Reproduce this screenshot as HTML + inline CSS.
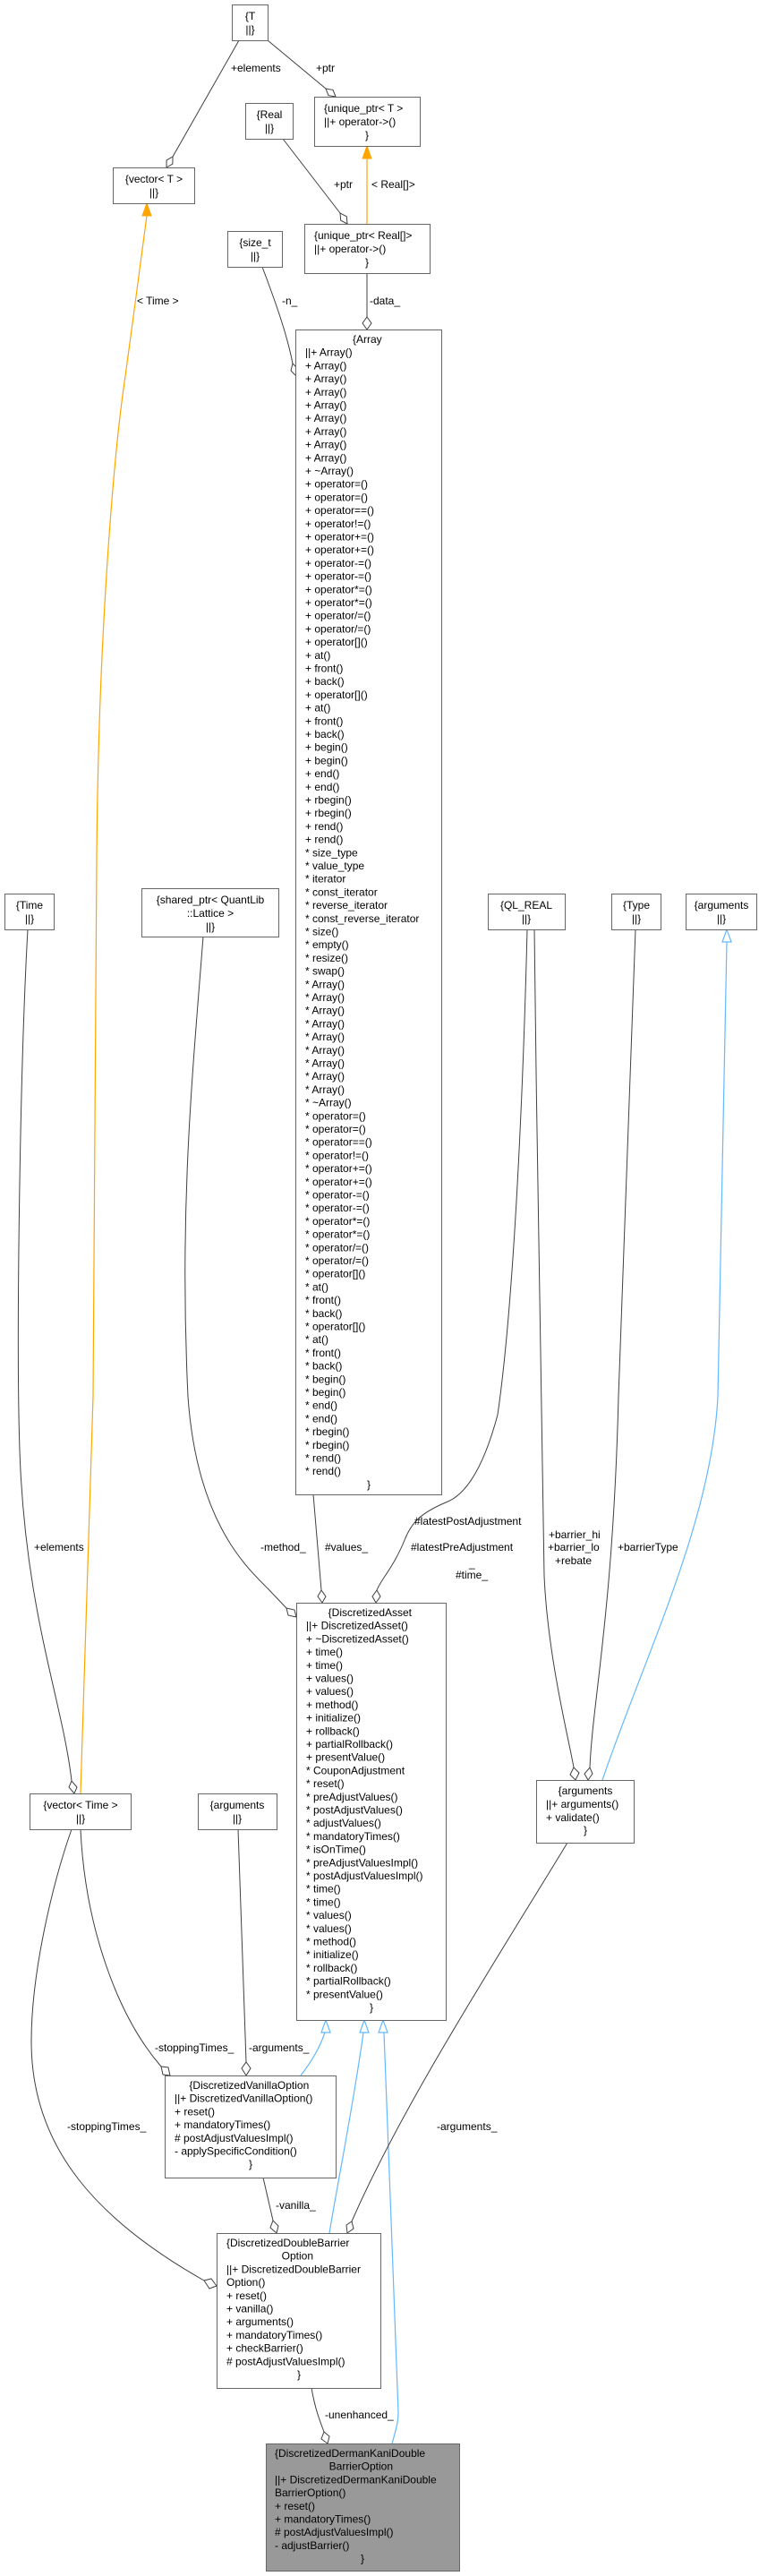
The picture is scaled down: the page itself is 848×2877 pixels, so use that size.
<!DOCTYPE html>
<html><head><meta charset="utf-8"><style>
html,body{margin:0;padding:0;background:#fff;}
svg{display:block;}
text{font-family:"Liberation Sans",Arial,sans-serif;font-size:12px;fill:#000;}
.b{fill:#fff;stroke:#666;stroke-width:1;}
.e{fill:none;stroke:#404040;stroke-width:1;}
.d{fill:#fff;stroke:#404040;stroke-width:1;}
.o{fill:none;stroke:#ffa500;stroke-width:1.2;}
.u{fill:none;stroke:#63b8ff;stroke-width:1.2;}
.c{text-anchor:middle;}
</style></head><body>
<svg width="848" height="2877" viewBox="0 0 848 2877" xmlns="http://www.w3.org/2000/svg">

<!-- ===== edges ===== -->
<!-- T -> vector<T> +elements -->
<path class="e" d="M267,45 L193,175"/>
<polygon class="d" points="186,187 192.9,183.1 193,175 186.1,178.9"/>
<text x="258" y="80">+elements</text>
<!-- T -> unique_ptr<T> +ptr -->
<path class="e" d="M299,45 L364,99"/>
<polygon class="d" points="375,108 367,106.6 364,99 372,100.4"/>
<text x="353" y="80">+ptr</text>
<!-- Real -> unique_ptr<Real[]> -->
<path class="e" d="M316,155 L380,238"/>
<polygon class="d" points="388,250 380.7,246.2 380,238 387.3,241.8"/>
<text x="373" y="210">+ptr</text>
<!-- orange template -->
<path class="o" d="M410,250 L410,177"/>
<polygon points="410,163 405,177 415,177" fill="#ffa500" stroke="#ffa500"/>
<text x="415" y="210">&lt; Real[]&gt;</text>
<!-- -data_ -->
<path class="e" d="M410,305 L410,354"/>
<polygon class="d" points="410,368 405,361 410,354 415,361"/>
<text x="413" y="340">-data_</text>
<!-- -n_ -->
<path class="e" d="M293,298 C305,330 320,370 327,406"/>
<polygon class="d" points="331,420 325,414 327,406 333,412"/>
<text x="315" y="340">-n_</text>
<!-- orange vector<Time> -> vector<T> -->
<path class="o" d="M90,2003 L104,1560 L108,960 C110,700 128,500 140,420 C148,360 158,290 164,241"/>
<polygon points="164,227 159,241 169,241" fill="#ffa500" stroke="#ffa500"/>
<text x="153" y="340">&lt; Time &gt;</text>
<!-- Time -> vector<Time> +elements -->
<path class="e" d="M31,1038 C22,1200 18,1500 22,1620 C28,1800 70,1900 80,1989"/>
<polygon class="d" points="83,2003 77,1996 80,1989 86,1996"/>
<text x="38" y="1732">+elements</text>
<!-- shared_ptr -> DA -method_ -->
<path class="e" d="M227,1046 C215,1200 200,1350 210,1560 C220,1700 275,1750 300,1775 L320,1796"/>
<polygon class="d" points="331,1806 322,1804 320,1796 329,1798"/>
<text x="291" y="1732">-method_</text>
<!-- #values_ -->
<path class="e" d="M350,1669 L359,1776"/>
<polygon class="d" points="360,1790 355,1783 359,1776 364,1783"/>
<text x="363" y="1732">#values_</text>
<!-- QL_REAL -> DA -->
<path class="e" d="M589,1038 C585,1200 575,1450 556,1580 C540,1640 520,1670 498,1678 C470,1690 460,1700 452,1720 C440,1750 425,1765 421,1776"/>
<polygon class="d" points="420,1790 416,1783 421,1776 425,1783"/>
<text x="463" y="1703">#latestPostAdjustment</text>
<text x="459" y="1732">#latestPreAdjustment</text>
<text x="524" y="1750">_</text>
<text x="509" y="1763">#time_</text>
<!-- QL_REAL -> arguments right -->
<path class="e" d="M597,1038 C600,1300 605,1600 608,1760 C612,1850 635,1940 641,1974"/>
<polygon class="d" points="643,1988 637,1982 641,1974 647,1980"/>
<text x="613" y="1718">+barrier_hi</text>
<text x="612" y="1732">+barrier_lo</text>
<text x="620" y="1747">+rebate</text>
<!-- Type -> arguments right -->
<path class="e" d="M710,1038 L691,1560 C685,1800 662,1900 659,1974"/>
<polygon class="d" points="657,1988 653,1981 659,1974 662,1981"/>
<text x="690" y="1732">+barrierType</text>
<!-- blue arguments right -> arguments top -->
<path class="u" d="M673,1988 C720,1850 795,1700 802,1560 L812,1052"/>
<polygon points="812,1038 807,1052 817,1052" fill="#fff" stroke="#63b8ff" stroke-width="1.2"/>
<!-- vector<Time> -> Vanilla -stoppingTimes_ -->
<path class="e" d="M90,2043 C95,2150 130,2250 180,2308"/>
<polygon class="d" points="190,2318 182,2317 180,2308 188,2309"/>
<text x="173" y="2291">-stoppingTimes_</text>
<!-- vector<Time> -> DB left -->
<path class="e" d="M80,2043 C60,2100 35,2200 35,2280 C35,2400 110,2480 228,2547"/>
<polygon class="d" points="242,2553 234,2556 228,2547 236,2545"/>
<text x="75" y="2379">-stoppingTimes_</text>
<!-- arguments mid -> Vanilla -->
<path class="e" d="M266,2043 L275,2303"/>
<polygon class="d" points="275,2318 270,2310 275,2303 280,2310"/>
<text x="278" y="2291">-arguments_</text>
<!-- blue inheritance into DA -->
<path class="u" d="M336,2318 C350,2300 358,2285 363,2270"/>
<polygon points="364,2256 359,2270 369,2270" fill="#fff" stroke="#63b8ff" stroke-width="1.2"/>
<path class="u" d="M368,2494 C375,2450 395,2350 406,2270"/>
<polygon points="407,2256 402,2270 412,2270" fill="#fff" stroke="#63b8ff" stroke-width="1.2"/>
<path class="u" d="M438,2729 C442,2715 445,2705 445,2695 L437,2480 L429,2270"/>
<polygon points="428,2256 423,2270 433,2270" fill="#fff" stroke="#63b8ff" stroke-width="1.2"/>
<!-- -vanilla_ -->
<path class="e" d="M294,2432 L305,2480"/>
<polygon class="d" points="309,2494 302,2488 305,2480 311,2486"/>
<text x="308" y="2467">-vanilla_</text>
<!-- args right -> DB -arguments_ -->
<path class="e" d="M634,2058 C560,2180 450,2350 393,2481"/>
<polygon class="d" points="388,2494 387,2485 393,2481 395,2489"/>
<text x="488" y="2379">-arguments_</text>
<!-- -unenhanced_ -->
<path class="e" d="M348,2667 C352,2690 357,2703 362,2716"/>
<polygon class="d" points="366,2729 359,2724 362,2716 368,2721"/>
<text x="363" y="2701">-unenhanced_</text>

<!-- ===== boxes ===== -->
<rect class="b" x="259.5" y="5.5" width="40" height="40"/>
<text class="c" x="279.5" y="22">{T</text><text class="c" x="279.5" y="37">||}</text>

<rect class="b" x="126.5" y="187.5" width="91" height="40"/>
<text class="c" x="172" y="204">{vector&lt; T &gt;</text><text class="c" x="172" y="219">||}</text>

<rect class="b" x="274.5" y="115.5" width="53" height="40"/>
<text class="c" x="301" y="132">{Real</text><text class="c" x="301" y="147">||}</text>

<rect class="b" x="351.5" y="108.5" width="118" height="55"/>
<text x="362" y="125">{unique_ptr&lt; T &gt;</text><text x="362" y="140">||+ operator-&gt;()</text><text class="c" x="410" y="155">}</text>

<rect class="b" x="340.5" y="250.5" width="140" height="55"/>
<text x="351" y="267">{unique_ptr&lt; Real[]&gt;</text><text x="351" y="282">||+ operator-&gt;()</text><text class="c" x="410" y="297">}</text>

<rect class="b" x="254.5" y="258.5" width="61" height="40"/>
<text class="c" x="285" y="275">{size_t</text><text class="c" x="285" y="290">||}</text>

<rect class="b" x="330.5" y="368.5" width="163" height="1301"/>
<text x="341" y="383">
<tspan class="c" x="412" dy="0">{Array</tspan>
<tspan x="341" dy="14.7">||+ Array()</tspan>
<tspan x="341" dy="14.7">+ Array()</tspan>
<tspan x="341" dy="14.7">+ Array()</tspan>
<tspan x="341" dy="14.7">+ Array()</tspan>
<tspan x="341" dy="14.7">+ Array()</tspan>
<tspan x="341" dy="14.7">+ Array()</tspan>
<tspan x="341" dy="14.7">+ Array()</tspan>
<tspan x="341" dy="14.7">+ Array()</tspan>
<tspan x="341" dy="14.7">+ Array()</tspan>
<tspan x="341" dy="14.7">+ ~Array()</tspan>
<tspan x="341" dy="14.7">+ operator=()</tspan>
<tspan x="341" dy="14.7">+ operator=()</tspan>
<tspan x="341" dy="14.7">+ operator==()</tspan>
<tspan x="341" dy="14.7">+ operator!=()</tspan>
<tspan x="341" dy="14.7">+ operator+=()</tspan>
<tspan x="341" dy="14.7">+ operator+=()</tspan>
<tspan x="341" dy="14.7">+ operator-=()</tspan>
<tspan x="341" dy="14.7">+ operator-=()</tspan>
<tspan x="341" dy="14.7">+ operator*=()</tspan>
<tspan x="341" dy="14.7">+ operator*=()</tspan>
<tspan x="341" dy="14.7">+ operator/=()</tspan>
<tspan x="341" dy="14.7">+ operator/=()</tspan>
<tspan x="341" dy="14.7">+ operator[]()</tspan>
<tspan x="341" dy="14.7">+ at()</tspan>
<tspan x="341" dy="14.7">+ front()</tspan>
<tspan x="341" dy="14.7">+ back()</tspan>
<tspan x="341" dy="14.7">+ operator[]()</tspan>
<tspan x="341" dy="14.7">+ at()</tspan>
<tspan x="341" dy="14.7">+ front()</tspan>
<tspan x="341" dy="14.7">+ back()</tspan>
<tspan x="341" dy="14.7">+ begin()</tspan>
<tspan x="341" dy="14.7">+ begin()</tspan>
<tspan x="341" dy="14.7">+ end()</tspan>
<tspan x="341" dy="14.7">+ end()</tspan>
<tspan x="341" dy="14.7">+ rbegin()</tspan>
<tspan x="341" dy="14.7">+ rbegin()</tspan>
<tspan x="341" dy="14.7">+ rend()</tspan>
<tspan x="341" dy="14.7">+ rend()</tspan>
<tspan x="341" dy="14.7">* size_type</tspan>
<tspan x="341" dy="14.7">* value_type</tspan>
<tspan x="341" dy="14.7">* iterator</tspan>
<tspan x="341" dy="14.7">* const_iterator</tspan>
<tspan x="341" dy="14.7">* reverse_iterator</tspan>
<tspan x="341" dy="14.7">* const_reverse_iterator</tspan>
<tspan x="341" dy="14.7">* size()</tspan>
<tspan x="341" dy="14.7">* empty()</tspan>
<tspan x="341" dy="14.7">* resize()</tspan>
<tspan x="341" dy="14.7">* swap()</tspan>
<tspan x="341" dy="14.7">* Array()</tspan>
<tspan x="341" dy="14.7">* Array()</tspan>
<tspan x="341" dy="14.7">* Array()</tspan>
<tspan x="341" dy="14.7">* Array()</tspan>
<tspan x="341" dy="14.7">* Array()</tspan>
<tspan x="341" dy="14.7">* Array()</tspan>
<tspan x="341" dy="14.7">* Array()</tspan>
<tspan x="341" dy="14.7">* Array()</tspan>
<tspan x="341" dy="14.7">* Array()</tspan>
<tspan x="341" dy="14.7">* ~Array()</tspan>
<tspan x="341" dy="14.7">* operator=()</tspan>
<tspan x="341" dy="14.7">* operator=()</tspan>
<tspan x="341" dy="14.7">* operator==()</tspan>
<tspan x="341" dy="14.7">* operator!=()</tspan>
<tspan x="341" dy="14.7">* operator+=()</tspan>
<tspan x="341" dy="14.7">* operator+=()</tspan>
<tspan x="341" dy="14.7">* operator-=()</tspan>
<tspan x="341" dy="14.7">* operator-=()</tspan>
<tspan x="341" dy="14.7">* operator*=()</tspan>
<tspan x="341" dy="14.7">* operator*=()</tspan>
<tspan x="341" dy="14.7">* operator/=()</tspan>
<tspan x="341" dy="14.7">* operator/=()</tspan>
<tspan x="341" dy="14.7">* operator[]()</tspan>
<tspan x="341" dy="14.7">* at()</tspan>
<tspan x="341" dy="14.7">* front()</tspan>
<tspan x="341" dy="14.7">* back()</tspan>
<tspan x="341" dy="14.7">* operator[]()</tspan>
<tspan x="341" dy="14.7">* at()</tspan>
<tspan x="341" dy="14.7">* front()</tspan>
<tspan x="341" dy="14.7">* back()</tspan>
<tspan x="341" dy="14.7">* begin()</tspan>
<tspan x="341" dy="14.7">* begin()</tspan>
<tspan x="341" dy="14.7">* end()</tspan>
<tspan x="341" dy="14.7">* end()</tspan>
<tspan x="341" dy="14.7">* rbegin()</tspan>
<tspan x="341" dy="14.7">* rbegin()</tspan>
<tspan x="341" dy="14.7">* rend()</tspan>
<tspan x="341" dy="14.7">* rend()</tspan>
<tspan class="c" x="412" dy="14.7">}</tspan>
</text>

<rect class="b" x="5.5" y="998.5" width="55" height="40"/>
<text class="c" x="33" y="1015">{Time</text><text class="c" x="33" y="1030">||}</text>

<rect class="b" x="158.5" y="992.5" width="153" height="54"/>
<text class="c" x="235" y="1009">{shared_ptr&lt; QuantLib</text><text class="c" x="235" y="1024">::Lattice &gt;</text><text class="c" x="235" y="1039">||}</text>

<rect class="b" x="545.5" y="998.5" width="86" height="40"/>
<text class="c" x="588" y="1015">{QL_REAL</text><text class="c" x="588" y="1030">||}</text>

<rect class="b" x="683.5" y="998.5" width="55" height="40"/>
<text class="c" x="711" y="1015">{Type</text><text class="c" x="711" y="1030">||}</text>

<rect class="b" x="766.5" y="998.5" width="79" height="40"/>
<text class="c" x="806" y="1015">{arguments</text><text class="c" x="806" y="1030">||}</text>

<rect class="b" x="33.5" y="2003.5" width="113" height="40"/>
<text class="c" x="90" y="2020">{vector&lt; Time &gt;</text><text class="c" x="90" y="2035">||}</text>

<rect class="b" x="221.5" y="2003.5" width="88" height="40"/>
<text class="c" x="265" y="2020">{arguments</text><text class="c" x="265" y="2035">||}</text>

<rect class="b" x="331.5" y="1790.5" width="167" height="466"/>
<text x="342" y="1805">
<tspan class="c" x="415" dy="0">{DiscretizedAsset</tspan>
<tspan x="342" dy="14.7">||+ DiscretizedAsset()</tspan>
<tspan x="342" dy="14.7">+ ~DiscretizedAsset()</tspan>
<tspan x="342" dy="14.7">+ time()</tspan>
<tspan x="342" dy="14.7">+ time()</tspan>
<tspan x="342" dy="14.7">+ values()</tspan>
<tspan x="342" dy="14.7">+ values()</tspan>
<tspan x="342" dy="14.7">+ method()</tspan>
<tspan x="342" dy="14.7">+ initialize()</tspan>
<tspan x="342" dy="14.7">+ rollback()</tspan>
<tspan x="342" dy="14.7">+ partialRollback()</tspan>
<tspan x="342" dy="14.7">+ presentValue()</tspan>
<tspan x="342" dy="14.7">* CouponAdjustment</tspan>
<tspan x="342" dy="14.7">* reset()</tspan>
<tspan x="342" dy="14.7">* preAdjustValues()</tspan>
<tspan x="342" dy="14.7">* postAdjustValues()</tspan>
<tspan x="342" dy="14.7">* adjustValues()</tspan>
<tspan x="342" dy="14.7">* mandatoryTimes()</tspan>
<tspan x="342" dy="14.7">* isOnTime()</tspan>
<tspan x="342" dy="14.7">* preAdjustValuesImpl()</tspan>
<tspan x="342" dy="14.7">* postAdjustValuesImpl()</tspan>
<tspan x="342" dy="14.7">* time()</tspan>
<tspan x="342" dy="14.7">* time()</tspan>
<tspan x="342" dy="14.7">* values()</tspan>
<tspan x="342" dy="14.7">* values()</tspan>
<tspan x="342" dy="14.7">* method()</tspan>
<tspan x="342" dy="14.7">* initialize()</tspan>
<tspan x="342" dy="14.7">* rollback()</tspan>
<tspan x="342" dy="14.7">* partialRollback()</tspan>
<tspan x="342" dy="14.7">* presentValue()</tspan>
<tspan class="c" x="415" dy="14.7">}</tspan>
</text>

<rect class="b" x="599.5" y="1988.5" width="109" height="70"/>
<text class="c" x="654" y="2004">{arguments</text>
<text x="610" y="2019">||+ arguments()</text>
<text x="610" y="2034">+ validate()</text>
<text class="c" x="654" y="2048">}</text>

<rect class="b" x="184.5" y="2318.5" width="191" height="114"/>
<text x="195" y="2333">
<tspan class="c" x="280" dy="0">{DiscretizedVanillaOption</tspan>
<tspan x="195" dy="14.7">||+ DiscretizedVanillaOption()</tspan>
<tspan x="195" dy="14.7">+ reset()</tspan>
<tspan x="195" dy="14.7">+ mandatoryTimes()</tspan>
<tspan x="195" dy="14.7"># postAdjustValuesImpl()</tspan>
<tspan x="195" dy="14.7">- applySpecificCondition()</tspan>
<tspan class="c" x="280" dy="14.7">}</tspan>
</text>

<rect class="b" x="242.5" y="2494.5" width="183" height="173"/>
<text x="253" y="2509">
<tspan x="253" dy="0">{DiscretizedDoubleBarrier</tspan>
<tspan class="c" x="334" dy="14.7">Option</tspan>
<tspan x="253" dy="14.7">||+ DiscretizedDoubleBarrier</tspan>
<tspan x="253" dy="14.7">Option()</tspan>
<tspan x="253" dy="14.7">+ reset()</tspan>
<tspan x="253" dy="14.7">+ vanilla()</tspan>
<tspan x="253" dy="14.7">+ arguments()</tspan>
<tspan x="253" dy="14.7">+ mandatoryTimes()</tspan>
<tspan x="253" dy="14.7">+ checkBarrier()</tspan>
<tspan x="253" dy="14.7"># postAdjustValuesImpl()</tspan>
<tspan class="c" x="334" dy="14.7">}</tspan>
</text>

<rect x="297.5" y="2729.5" width="216" height="142" fill="#999" stroke="#666"/>
<text x="307" y="2744">
<tspan x="307" dy="0">{DiscretizedDermanKaniDouble</tspan>
<tspan class="c" x="405" dy="14.7">BarrierOption</tspan>
<tspan x="307" dy="14.7">||+ DiscretizedDermanKaniDouble</tspan>
<tspan x="307" dy="14.7">BarrierOption()</tspan>
<tspan x="307" dy="14.7">+ reset()</tspan>
<tspan x="307" dy="14.7">+ mandatoryTimes()</tspan>
<tspan x="307" dy="14.7"># postAdjustValuesImpl()</tspan>
<tspan x="307" dy="14.7">- adjustBarrier()</tspan>
<tspan class="c" x="405" dy="14.7">}</tspan>
</text>
</svg>
</body></html>
